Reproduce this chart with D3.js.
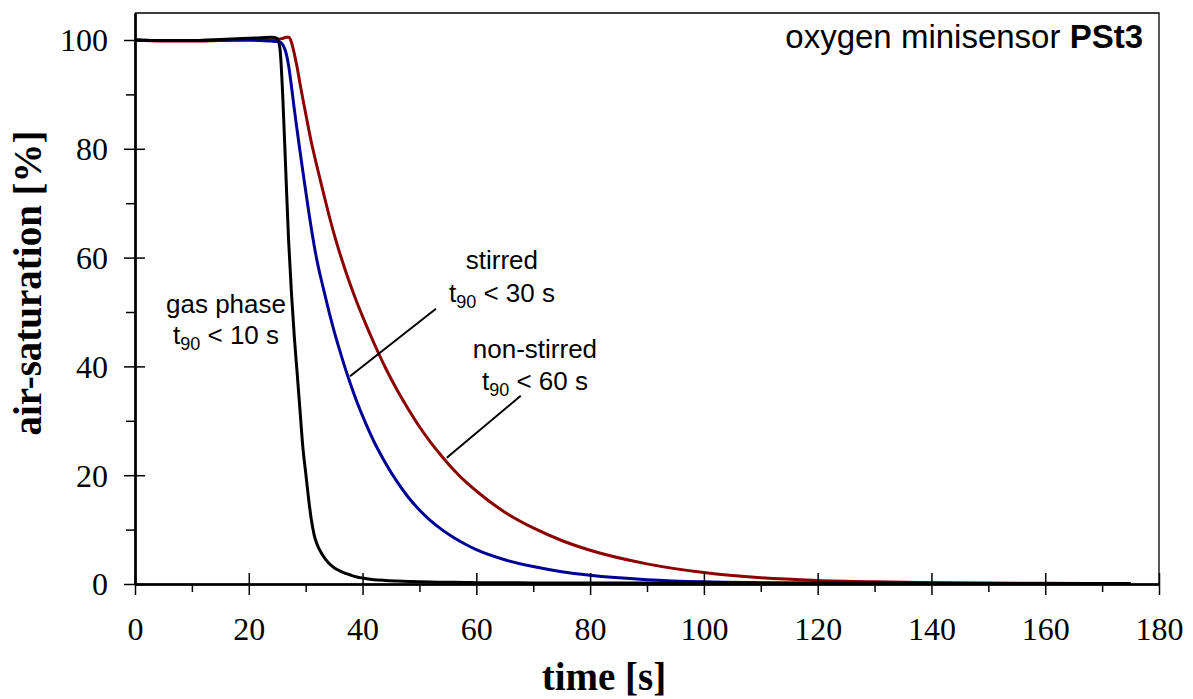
<!DOCTYPE html>
<html>
<head>
<meta charset="utf-8">
<script src="https://cdn.jsdelivr.net/npm/d3@7"></script>
<style>
  body { margin: 0; background: #fff; }
  .tick text { font-family: "Liberation Serif", "Times New Roman", serif; font-size: 32px; fill: #000; }
  .note { font-family: "Liberation Sans", Arial, sans-serif; font-size: 26px; fill: #000; }
</style>
</head>
<body>
<div id="chart"></div>
<script>
// time points [s]
const times = [0, 5, 10, 15, 20, 22, 24, 25, 25.5, 26, 26.5, 27, 27.5, 28, 28.5, 29, 29.5, 30, 30.5, 31, 31.5,
  32, 33, 34, 35, 36, 37, 38, 39, 40, 42, 44, 46, 48, 50, 52, 54, 56, 58, 60,
  65, 70, 75, 80, 90, 100, 110, 120, 130, 140, 160, 175];

// air-saturation [%] per condition
const gasPhase = [100, 99.9, 99.9, 100.1, 100.3, 100.4, 100.5, 100.3, 98.2, 89, 76, 63.2, 53.5, 45.5, 38.8, 32, 25.2, 20.5, 15.8, 11.8, 9.0,
  7.3, 5.3, 3.9, 3.0, 2.4, 1.95, 1.6, 1.3, 1.1, 0.8, 0.65, 0.55, 0.47, 0.4, 0.36, 0.33, 0.3, 0.28, 0.25,
  0.22, 0.2, 0.2, 0.2, 0.2, 0.2, 0.15, 0.15, 0.13, 0.12, 0.1, 0.1];
const stirred = [100, 99.9, 99.9, 100, 100, 99.9, 99.8, 99.7, 99.6, 99.1, 97.8, 95.3, 91.5, 87.3, 83.4, 79.6, 75.9, 72.3, 68.7, 65.3, 62.2,
  59.4, 54.8, 50.5, 46.5, 42.9, 39.5, 36.4, 33.5, 30.9, 26.2, 22.3, 18.9, 16.0, 13.6, 11.6, 9.95, 8.55, 7.35, 6.3,
  4.45, 3.2, 2.25, 1.6, 0.8, 0.4, 0.25, 0.18, 0.15, 0.12, 0.1, 0.1];
const nonStirred = [100, 99.8, 99.8, 99.9, 100, 100, 100, 100.1, 100.2, 100.3, 100.5, 100.5, 99.6, 97.5, 95, 92, 89.2, 86.5, 83.8, 81.2, 78.9,
  76.7, 72.4, 68.2, 64.3, 60.8, 57.6, 54.6, 51.8, 49.2, 44.3, 39.8, 35.8, 32.2, 28.9, 26.0, 23.4, 21.0, 18.9, 17.1,
  13.2, 10.3, 8.0, 6.2, 3.7, 2.1, 1.15, 0.65, 0.4, 0.25, 0.12, 0.1];

const xMajor = [0, 20, 40, 60, 80, 100, 120, 140, 160, 180];
const xMinor = [10, 30, 50, 70, 90, 110, 130, 150, 170];
const yMajor = [0, 20, 40, 60, 80, 100];
const yMinor = [10, 30, 50, 70, 90];

// annotations: [time, value] in data units
const notes = [
  { name: "gas phase", t90: "< 10 s", x: 16, y: 49.8, y2: 44.1 },
  { name: "stirred", t90: "< 30 s", x: 64.5, y: 57.9, y2: 51.8 },
  { name: "non-stirred", t90: "< 60 s", x: 70.3, y: 41.5, y2: 35.7 }
];
const leaders = [
  [[37.8, 38.2], [52.9, 50.6]],
  [[54.8, 23.2], [67.8, 34.6]]
];

const series = [
  { name: "non-stirred", values: nonStirred, color: "#8b0000" },
  { name: "stirred", values: stirred, color: "#000096" },
  { name: "gas phase", values: gasPhase, color: "#000000" }
];

const W = 1193, H = 699;
const margin = { top: 13, right: 34, bottom: 115, left: 135 };
const width = W - margin.left - margin.right;
const height = H - margin.top - margin.bottom;

const svg = d3.select("#chart").append("svg")
  .attr("width", W)
  .attr("height", H);

const g = svg.append("g")
  .attr("transform", `translate(${margin.left},${margin.top})`);

const x = d3.scaleLinear().domain([0, 180]).range([0, width]);
// y: 0 at the bottom, 100 sits ~27px below the frame top
const y = d3.scaleLinear().domain([0, 100 * height / (height - 27)]).range([height, 0]);

// frame (top and right)
g.append("path")
  .attr("d", `M0,0H${width}V${height}`)
  .attr("fill", "none")
  .attr("stroke", "#000")
  .attr("stroke-width", 1.3);

// curves
const line = d3.line()
  .x((d, i) => x(times[i]))
  .y(d => y(d))
  .curve(d3.curveMonotoneX);

g.selectAll(".curve")
  .data(series)
  .enter()
  .append("path")
  .attr("class", "curve")
  .attr("d", d => line(d.values))
  .attr("fill", "none")
  .attr("stroke", d => d.color)
  .attr("stroke-width", 3)
  .attr("stroke-linejoin", "round");

// axes
function styleAxis(sel) {
  sel.select(".domain").attr("stroke-width", 2);
  sel.selectAll(".tick line").attr("stroke-width", 1.5);
}

g.append("g")
  .attr("transform", `translate(0,${height})`)
  .call(d3.axisBottom(x).tickValues(xMajor).tickSize(11).tickPadding(22).tickSizeOuter(0))
  .call(styleAxis)
  .call(s => s.selectAll("text").attr("font-family", null).attr("font-size", null));

g.append("g")
  .attr("transform", `translate(0,${height})`)
  .call(d3.axisBottom(x).tickValues(xMajor).tickSize(-11).tickFormat("").tickSizeOuter(0))
  .call(styleAxis);

g.append("g")
  .attr("transform", `translate(0,${height})`)
  .call(d3.axisBottom(x).tickValues(xMinor).tickSize(8).tickFormat("").tickSizeOuter(0))
  .call(styleAxis);

g.append("g")
  .call(d3.axisLeft(y).tickValues(yMajor).tickSize(11).tickPadding(16).tickSizeOuter(0))
  .call(styleAxis)
  .call(s => s.selectAll("text").attr("font-family", null).attr("font-size", null).attr("dy", "0.34em"));

g.append("g")
  .call(d3.axisLeft(y).tickValues(yMajor).tickSize(-10).tickFormat("").tickSizeOuter(0))
  .call(styleAxis);

g.append("g")
  .call(d3.axisLeft(y).tickValues(yMinor).tickSize(9).tickFormat("").tickSizeOuter(0))
  .call(styleAxis);

// axis titles
svg.append("text")
  .attr("x", 604)
  .attr("y", 690)
  .attr("text-anchor", "middle")
  .style("font-family", "'Liberation Serif', 'Times New Roman', serif")
  .style("font-weight", "bold")
  .style("font-size", "39px")
  .text("time [s]");

svg.append("text")
  .attr("transform", "translate(41,283) rotate(-90)")
  .attr("text-anchor", "middle")
  .style("font-family", "'Liberation Serif', 'Times New Roman', serif")
  .style("font-weight", "bold")
  .style("font-size", "39px")
  .text("air-saturation [%]");

// title inside the frame
const title = g.append("text")
  .attr("class", "note")
  .style("font-size", "33px")
  .attr("x", width - 16)
  .attr("y", 35)
  .attr("text-anchor", "end");
title.append("tspan").text("oxygen minisensor ");
title.append("tspan").style("font-weight", "bold").text("PSt3");

// leader lines
g.selectAll(".leader")
  .data(leaders)
  .enter()
  .append("line")
  .attr("x1", d => x(d[0][0]))
  .attr("y1", d => y(d[0][1]))
  .attr("x2", d => x(d[1][0]))
  .attr("y2", d => y(d[1][1]))
  .attr("stroke", "#000")
  .attr("stroke-width", 2);

// annotation texts
notes.forEach(n => {
  g.append("text")
    .attr("class", "note")
    .attr("x", x(n.x))
    .attr("y", y(n.y))
    .attr("text-anchor", "middle")
    .text(n.name);

  const t = g.append("text")
    .attr("class", "note")
    .attr("x", x(n.x))
    .attr("y", y(n.y2))
    .attr("text-anchor", "middle");
  t.append("tspan").text("t");
  t.append("tspan").attr("dy", 6).style("font-size", "18px").text("90");
  t.append("tspan").attr("dy", -6).text(" " + n.t90);
});
</script>
</body>
</html>
